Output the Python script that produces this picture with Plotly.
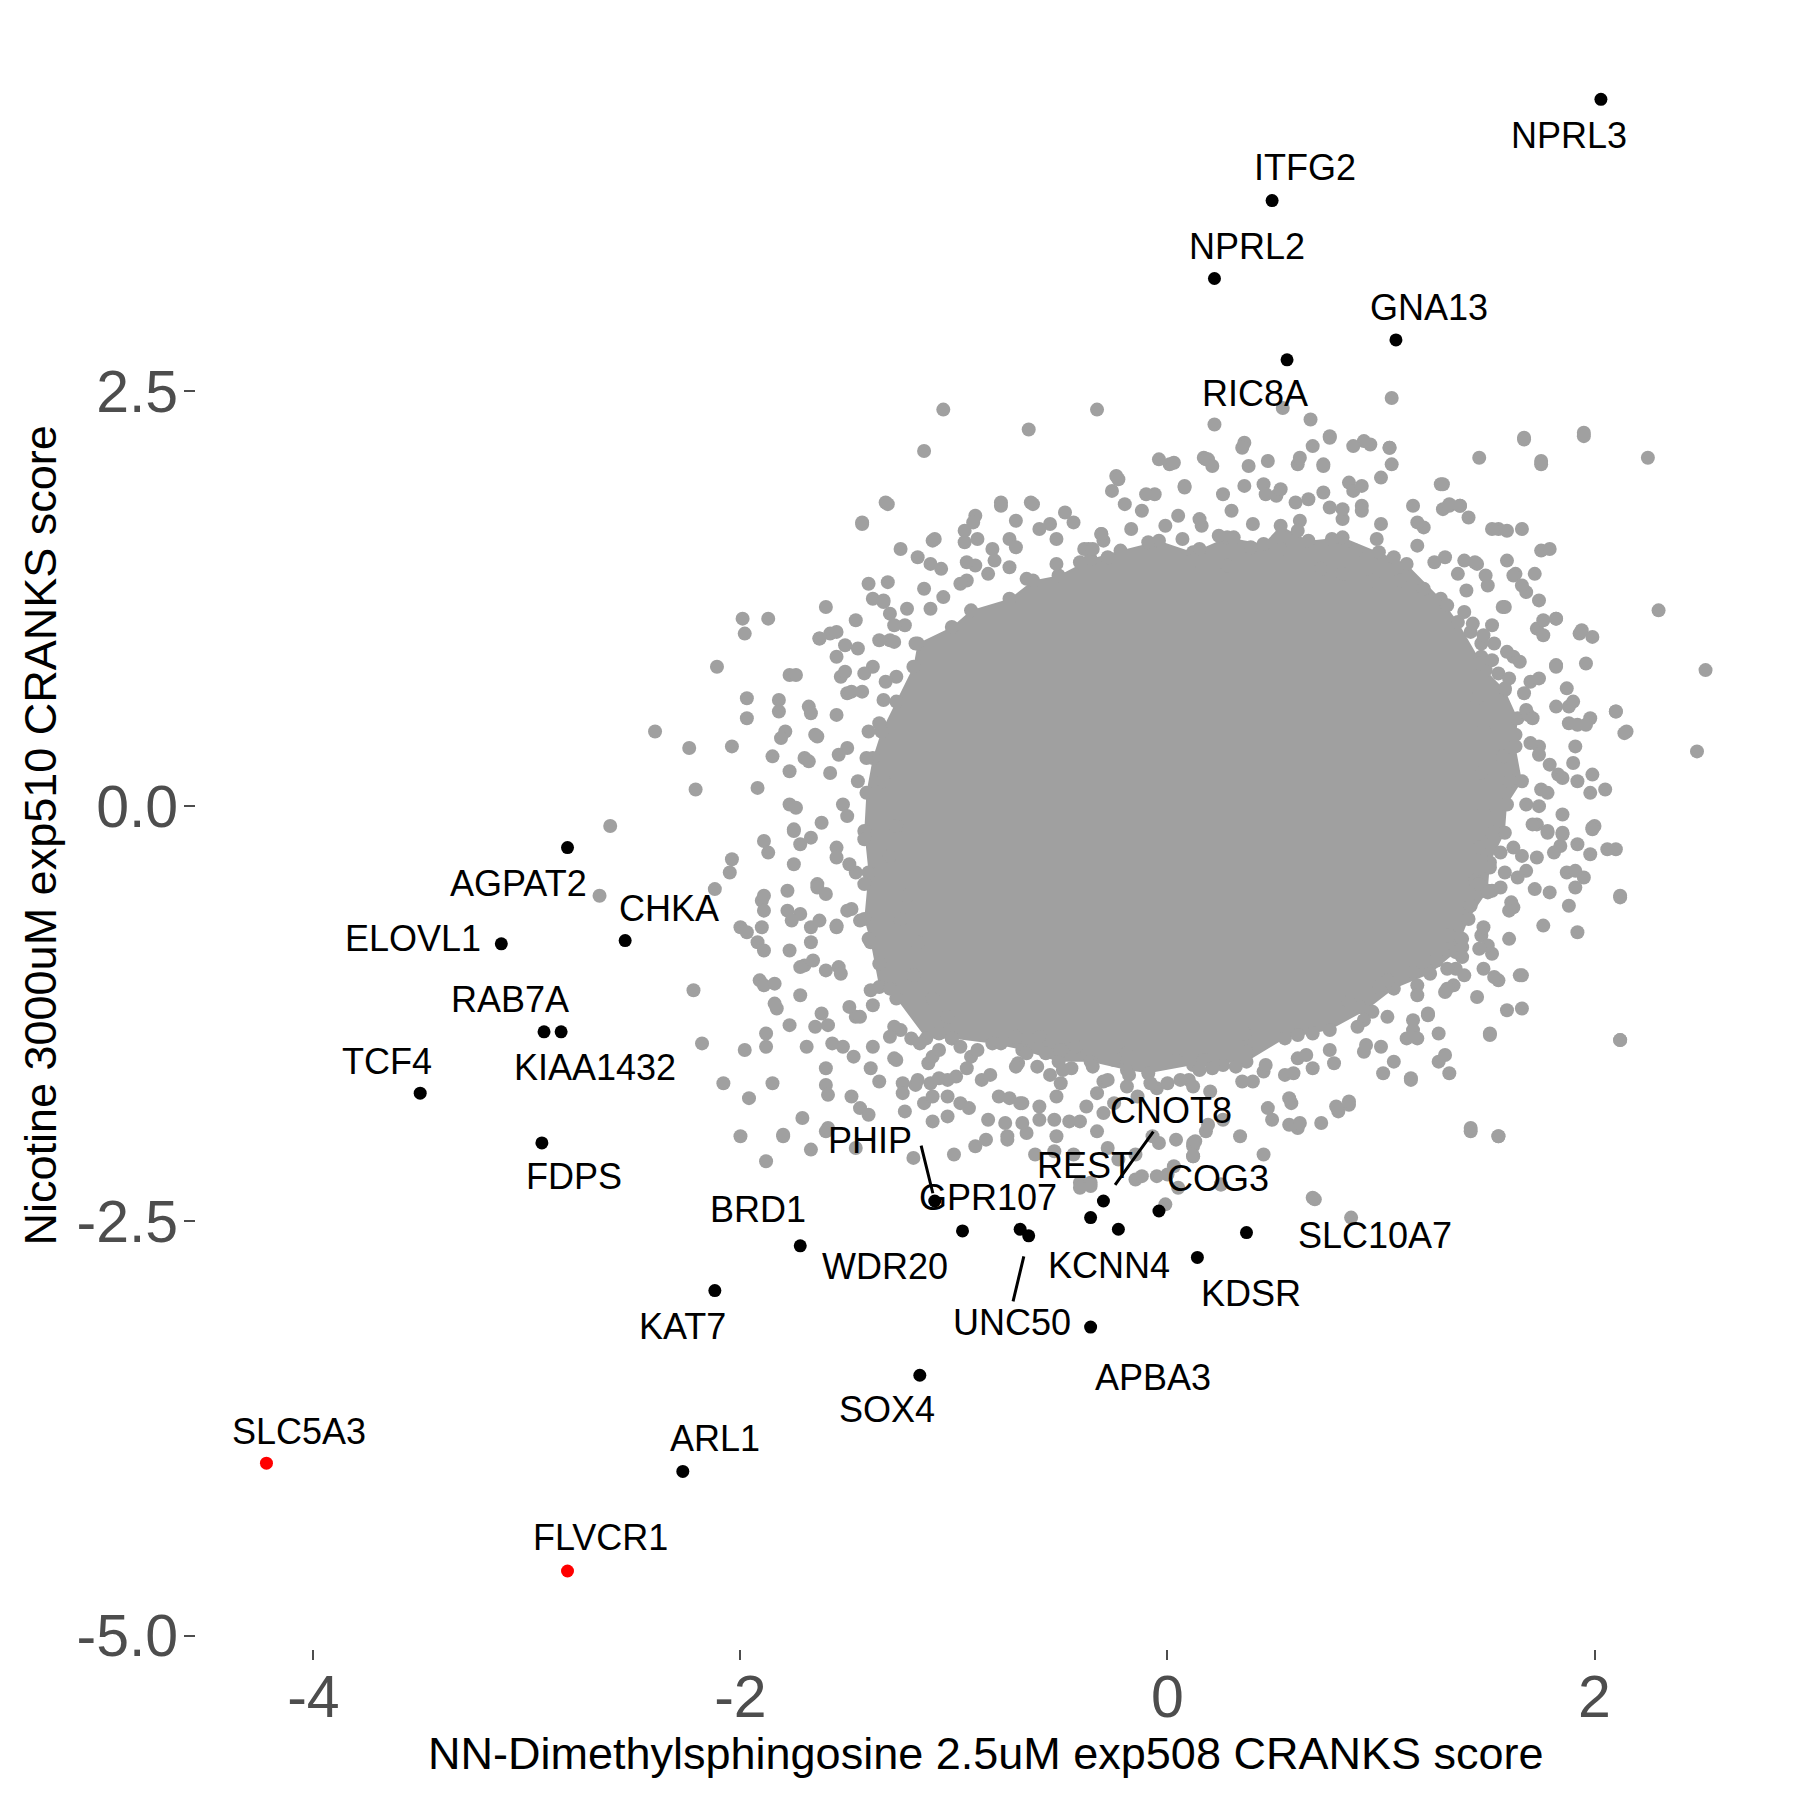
import plotly.graph_objects as go

# labelled genes (black)
hit_genes = ["NPRL3", "ITFG2", "NPRL2", "GNA13", "RIC8A", "AGPAT2", "ELOVL1", "CHKA",
             "RAB7A", "KIAA1432", "TCF4", "FDPS", "PHIP", "GPR107", "WDR20", "BRD1",
             "KAT7", "UNC50", "CNOT8", "REST", "KCNN4", "COG3", "KDSR", "SLC10A7",
             "APBA3", "SOX4", "ARL1"]
hit_x = [2.03, 0.49, 0.22, 1.07, 0.56, -2.81, -3.12, -2.54,
         -2.92, -2.84, -3.50, -2.93, -1.09, -0.69, -0.96, -1.72,
         -2.12, -0.65, -0.30, -0.36, -0.23, -0.04, 0.14, 0.37,
         -0.36, -1.16, -2.27]
hit_y = [4.26, 3.65, 3.18, 2.81, 2.69, -0.25, -0.83, -0.81,
         -1.36, -1.36, -1.73, -2.03, -2.38, -2.55, -2.56, -2.65,
         -2.92, -2.59, -2.38, -2.48, -2.55, -2.44, -2.72, -2.57,
         -3.14, -3.43, -4.01]

# highlighted genes (red)
red_genes = ["SLC5A3", "FLVCR1"]
red_x = [-4.22, -2.81]
red_y = [-3.96, -4.61]

# outline of the (practically solid) dense core of background genes
core_x = [-0.22, -0.04, 0.12, 0.28, 0.45, 0.53, 0.66, 0.82, 0.99, 1.12, 1.28, 1.36, 1.49, 1.58,
          1.64, 1.63, 1.66, 1.59, 1.58, 1.51, 1.50, 1.41, 1.35, 1.23, 1.06, 0.93, 0.76, 0.55,
          0.37, 0.12, -0.09, -0.19, -0.36, -0.51, -0.68, -0.82, -1.01, -1.13, -1.27, -1.35,
          -1.39, -1.42, -1.40, -1.42, -1.41, -1.38, -1.34, -1.27, -1.19, -1.17, -1.01, -0.92,
          -0.74, -0.63, -0.51, -0.36]
core_y = [1.54, 1.60, 1.53, 1.62, 1.58, 1.69, 1.60, 1.62, 1.53, 1.46, 1.25, 1.11, 0.82, 0.70,
          0.53, 0.36, 0.15, 0.01, -0.16, -0.34, -0.51, -0.68, -0.88, -1.01, -1.10, -1.23, -1.35, -1.40,
          -1.54, -1.56, -1.61, -1.59, -1.54, -1.54, -1.47, -1.43, -1.40, -1.40, -1.16, -1.09,
          -0.82, -0.68, -0.40, -0.15, 0.08, 0.29, 0.45, 0.63, 0.84, 0.98, 1.08, 1.18,
          1.25, 1.36, 1.39, 1.49]

# background genes outside the core, whole cloud
gray_x = [-1.05, -0.33, -0.65, 0.22, 0.36, 0.54, 0.67, 0.76, 0.92, 1.04, 1.05, 1.67, 1.95, 2.25, 1.75,
          0.19, 0.01, -0.24, 0.61, 0.73, 0.45, 0.51, 0.85, 0.91, 1.29, 0.76, 0.82, 1.15, 1.32, 1.37,
          1.55, 1.66, -1.32, -1.43, -0.78, -0.64, -0.48, -0.12, -0.06, 0.16, 0.24,
          -0.90, -0.55, -0.20, 0.05, 0.30, 0.40, 0.62, 1.00, 1.20, -1.10, -1.25, -0.30,
          -1.17, -1.09, -0.95, -0.89, -0.60, -0.52, -0.44, -0.37, -0.31, -0.17, -0.09, -0.01, 0.07,
          0.15, 0.31, 0.39, 0.53, 0.61, 0.77, 0.88, 0.98, 1.06, 1.17, 1.25, 1.36, 1.44,
          -0.84, -0.74, -0.66, -0.52, -0.41, 0.12, 0.28, 0.72, 0.82, 0.96, 1.09, 1.20, 1.31, 1.39,
          -1.38, -1.33, -1.30, -1.46, -1.23, -1.18, -1.11, -1.05, -0.94, -0.90, -0.82, -0.74,
          -1.38, -1.27, -1.33, -1.35, -1.41, -1.33, -1.27, -1.30, -1.22, -1.25, -1.17, -1.19,
          -1.10, -1.03, -1.01, -0.92,
          -2.40, -2.61, -2.66, -2.24, -2.21, -2.22, -2.18, -2.11, -1.99, -1.98, -1.97, -1.97,
          -2.04, -1.92, -2.08, -1.96, -2.00, -1.85, -1.80, -2.04, -2.05, -2.12, -2.00, -1.97,
          -1.90, -1.92, -1.82, -1.77, -1.89, -1.77, -1.63, -1.58, -1.53, -1.48, -1.70, -1.65,
          -1.79, -1.62, -1.77, -1.83, -1.91, -1.98, -1.60, -1.60, -1.44, -1.60, -1.71, -1.67,
          -1.70, -1.46, -1.38, -1.54, -1.39, -1.35, -1.23, -1.18, -1.11, -1.46, -1.52, -1.50,
          -1.46, -1.42, -1.64,
          -1.55, -1.50, -1.58, -1.45, -1.62, -1.55, -1.48, -1.55, -1.40, -1.35, -1.30, -1.25,
          -1.40, -1.45, -1.55, -1.30, -1.42, -1.38, -1.28, -1.20, -1.12, -1.72, -1.75, -1.68,
          -1.85, -1.60, -1.88, -1.52,
          -0.87, -0.79, -1.03, -0.97, -0.84, -0.75, -0.68, -0.60, -0.52, -0.44, -0.33, -0.28,
          -0.23, -0.15, -0.04, 0.03, 0.12, 0.18, 0.26, 0.34, 0.49, 0.58, 0.61, 0.72, 0.80, 0.85,
          1.01, 1.06, 1.14, 1.27, 1.32, 1.51, 1.66, 2.12, 1.42, 1.55, 0.69, 0.86, -0.41, -0.36,
          -0.62, 0.05, 0.00, 0.25, -0.90, -1.00, -0.15, 0.45, -0.12, -0.01,
          -0.70, -0.55, -0.45, -0.30, -0.18, -0.05, 0.10, 0.20, 0.35, 0.45, 0.55, 0.68, 0.78,
          0.92, 1.00, 1.15, 1.22, 1.30,
          1.42, 1.47, 1.45, 1.48, 1.47, 1.48, 1.46, 1.44, 1.42, 1.38, 1.35,
          2.52, 2.30, 2.48, 2.15, 2.10, 1.96, 1.93, 1.82, 1.73, 1.82, 2.00, 2.10, 2.12, 1.95,
          1.84, 1.83, 1.90, 1.92, 1.98, 1.66, 1.76, 1.75, 1.79, 1.63, 1.68, 1.58, 1.68, 1.63,
          1.74, 1.60, 1.68, 1.52, 1.66, 1.52, 1.62, 1.47, 1.52, 1.39, 1.47, 1.52,
          1.58, 1.62, 1.55, 1.70, 1.57, 1.75, 1.58, 1.72, 1.60, 1.45, 1.55, 1.85, 1.88, 1.40,
          1.50, 2.05]
gray_y = [2.39, 2.39, 2.27, 2.30, 2.19, 2.40, 2.33, 2.23, 2.20, 2.16, 2.46, 2.22, 2.25, 2.10, 2.08,
          2.09, 2.06, 1.99, 2.06, 2.06, 1.94, 1.87, 1.95, 1.81, 1.94, 1.80, 1.73, 1.81, 1.81, 1.81,
          1.67, 1.67, 1.83, 1.71, 1.83, 1.83, 1.77, 1.78, 1.88, 1.69, 1.63,
          1.75, 1.70, 1.82, 1.75, 1.78, 1.70, 1.72, 1.70, 1.68, 1.60, 1.55, 1.60,
          1.50, 1.61, 1.66, 1.61, 1.67, 1.61, 1.71, 1.55, 1.64, 1.67, 1.59, 1.69, 1.61,
          1.55, 1.62, 1.56, 1.55, 1.66, 1.61, 1.54, 1.61, 1.50, 1.57, 1.47, 1.40, 1.47,
          1.40, 1.44, 1.37, 1.46, 1.47, 1.48, 1.45, 1.43, 1.40, 1.36, 1.36, 1.31, 1.21, 1.17,
          1.25, 1.24, 1.16, 1.12, 1.09, 0.98, 1.19, 1.26, 1.36, 1.45, 1.55, 1.61,
          0.84, 0.78, 0.64, 0.50, 0.29, 0.15, -0.12, -0.30, -0.54, -0.68, -0.82, -1.02,
          -1.16, -1.27, -1.40, -1.51,
          0.45, -0.12, -0.54, 0.35, 0.10, -1.11, -1.43, 0.84, 1.13, 1.04, 0.65, 0.53,
          0.36, 0.11, -1.67, -1.76, -1.99, -1.67, -1.99, -0.32, -0.40, -0.50, -0.73, -0.76,
          -0.57, -0.82, 0.64, 0.79, -0.21, 0.01, 1.01, 1.04, 0.78, 0.69, 0.29, 0.43,
          0.45, -1.25, -1.32, -1.22, -1.05, -1.47, -1.58, -1.68, -1.82, -1.96, -1.88, -0.82,
          -0.96, -1.27, -1.20, -0.97, -1.58, -1.66, -1.84, -1.68, -1.67, -2.06, 0.01, -0.06,
          -0.40, -0.47, -0.47,
          0.55, 0.35, 0.20, 0.15, -0.10, -0.25, -0.62, -0.72, -0.80, -0.95, -1.10, -1.35,
          0.45, 0.95, 0.90, 1.00, -0.20, -1.45, -1.52, -1.40, -1.55, -0.65, -0.35, 0.60,
          0.30, 1.20, -1.45, -1.45,
          -1.65, -1.75, -1.65, -1.79, -1.89, -1.99, -1.79, -1.89, -1.99, -2.10, -1.96, -2.06,
          -2.13, -2.10, -2.03, -2.17, -2.05, -1.96, -1.89, -1.99, -1.89, -1.79, -1.94, -1.91,
          -1.84, -1.80, -1.61, -1.54, -1.65, -1.54, -1.61, -1.37, -1.22, -1.41, -1.96, -1.99,
          -2.37, -2.48, -2.27, -2.27, -2.10, -2.30, -2.22, -2.28, -2.05, -2.10, -2.25, -2.10,
          -2.23, -2.40,
          -1.55, -1.62, -1.58, -1.66, -1.62, -1.70, -1.65, -1.72, -1.66, -1.60, -1.62, -1.58,
          -1.55, -1.48, -1.45, -1.35, -1.25, -1.12,
          1.05, 0.90, 0.65, 0.45, 0.20, -0.05, -0.25, -0.45, -0.60, -0.85, -0.98,
          0.82, 1.18, 0.33, 0.45, 0.57, 0.86, 1.04, 1.13, 1.07, 0.85, -0.12, -0.26, -0.54, -0.43,
          -0.24, 0.19, 0.26, 0.49, 0.53, -1.02, -0.72, 1.54, 1.55, 1.40, 1.29, 0.71, 0.58, 0.43,
          0.36, 0.15, 0.01, -0.16, -0.30, -0.51, -0.61, -0.78, -0.89, -1.02, 0.98, 1.09,
          1.20, 0.90, 0.80, 0.75, 0.30, 0.10, -0.40, -0.50, -0.80, -1.15, -1.05, -0.05, 0.60, 1.30,
          1.33, 0.10]

# background genes around the core edge, upper-left
edge_ul_x = [-1.14, -1.31, -1.43, -1.87, -1.74, -1.82, -1.67, -1.64, -1.81, -1.77, -1.68, -1.74, -1.75,
             -1.54, -1.51, -1.42, -1.50, -1.43, -1.32, -1.40, -1.31, -1.11, -1.06, -0.97, -0.94, -0.95,
             -0.91, -0.81, -0.78, -0.63, -0.71, -0.71, -0.26, -0.23, -0.10, -0.04, 0.03, 0.08, 0.15,
             0.17, -0.31, -0.39, -0.35, -0.28, -1.63, -1.55, -1.51, -1.28, -1.35, -1.28, -1.22, -1.14,
             -1.33]
edge_ul_y = [2.14, 1.82, 1.70, 1.13, 0.79, 0.57, 0.56, 0.42, 0.41, 0.21, 0.27, -0.01, -0.14,
             0.31, 0.81, 0.80, 0.68, 0.69, 0.75, 1.34, 1.35, 1.46, 1.43, 1.34, 1.47, 1.59,
             1.71, 1.48, 1.81, 1.82, 1.56, 1.72, 1.90, 1.97, 1.88, 2.09, 2.07, 1.93, 1.73,
             2.10, 1.64, 1.55, 1.55, 1.50, 1.01, 1.05, 0.97, 1.09, 1.00, 0.99, 1.19, 1.31,
             1.23]

# lower-left
edge_ll_x = [-1.87, -1.89, -1.89, -1.90, -1.78, -1.78, -1.76, -1.89, -1.77, -1.89, -1.84, -1.84, -1.72, -1.88,
             -1.69, -1.65, -1.59, -1.57, -1.47, -1.59,
             -1.48, -1.40, -1.80, -1.67, -1.88, -1.59, -1.19, -1.72, -1.66, -1.60, -1.53, -1.67, -1.63, -1.55,
             -1.64, -1.60, -1.72, -1.67, -1.75, -1.55,
             -1.49, -1.50, -1.44, -1.49, -1.44, -1.39, -1.28, -1.30, -1.27, -1.16, -1.24, -1.17, -1.24, -1.14,
             -1.10, -1.03, -1.03, -1.10, -1.07, -1.10,
             -1.07, -0.93, -0.99, -0.94, -0.83, -0.85, -0.76, -0.75, -0.66, -0.68, -0.74, -0.69, -0.60, -0.53,
             -0.46, -0.41, -0.52, -0.50, -0.49, -0.61,
             -0.57, -0.71, -0.66, -0.78, -0.71, -0.38, -0.33, -0.30, -0.25, -0.28, -0.19, -0.14, -0.08, 0.00,
             0.06, 0.12, -0.07, 0.04, 0.12, 0.12,
             -0.05, -0.41, -0.36, -0.53, 0.04, 0.17, -0.35, -0.25, -0.19, -0.60, -0.50, -0.43, -0.89, -1.07,
             -0.97]
edge_ll_y = [-0.28, -0.54, -0.63, -0.73, -0.51, -0.63, -0.69, -0.87, -0.87, -1.08, -1.07, -1.19, -1.14, -1.37,
             -1.45, -1.33, -1.32, -1.43, -1.51, -1.74,
             -1.75, -1.86, -1.98, -2.07, -2.14, -1.94, -2.12, -0.97, -0.93, -0.99, -1.01, -0.73, -0.69, -0.73,
             -0.49, -0.53, -0.23, -0.19, -0.15, -0.31,
             -0.35, -0.63, -0.69, -1.21, -1.27, -1.11, -1.33, -1.39, -1.53, -1.43, -1.67, -1.65, -1.73, -1.79,
             -1.75, -1.75, -1.87, -1.90, -1.64, -1.51,
             -1.47, -1.82, -1.63, -1.58, -1.62, -2.01, -1.91, -2.01, -1.97, -1.91, -1.76, -1.79, -1.81, -1.89,
             -1.90, -1.90, -1.75, -1.67, -1.59, -1.57,
             -1.49, -1.57, -1.49, -1.43, -1.39, -1.81, -1.73, -1.85, -1.79, -1.65, -1.69, -1.75, -1.67, -1.67,
             -1.65, -1.69, -1.99, -2.01, -2.03, -2.11,
             -2.23, -2.30, -2.29, -2.08, -1.53, -1.53, -1.57, -1.53, -1.49, -1.39, -1.47, -1.45, -1.47, -1.37,
             -1.45]

# upper-right
edge_ur_x = [1.67, 1.95, 1.46, 1.75, 1.28, 1.00, 1.04, 1.05, 0.87, 0.95, 0.76, 0.68, 0.73, 0.62, 0.35, 0.47,
             0.18, 0.21, 0.38, 0.08,
             0.26, 0.36, 0.46, 0.53, 0.60, 0.66, 0.73, 0.82, 0.87, 0.91, 0.91, 1.29, 1.32, 1.37, 1.41, 1.17,
             1.52, 1.59, 1.30, 1.39,
             1.45, 1.49, 1.59, 1.62, 1.66, 1.72, 1.57, 1.74, 1.76, 1.82, 1.76, 1.94, 1.99, 1.43, 1.48, 1.53,
             1.59, 1.65, 1.52, 1.46,
             1.74, 1.82, 1.87, 1.90, 1.82, 1.88, 1.96, 1.91, 2.10, 2.14, 1.60, 1.67, 1.69, 1.71, 1.70, 1.74,
             1.79, 1.85, 1.92, 1.99,
             1.98, 1.78, 1.74, 1.73, 1.78, 1.85, 1.99]
edge_ur_y = [2.21, 2.23, 2.10, 2.06, 1.94, 1.98, 2.16, 2.06, 2.17, 2.18, 2.22, 2.17, 2.05, 2.10, 2.16, 2.08,
             2.09, 2.05, 2.05, 1.92,
             1.88, 1.93, 1.88, 1.91, 1.83, 1.85, 1.89, 1.79, 1.90, 1.93, 1.78, 1.79, 1.82, 1.81, 1.74, 1.71,
             1.67, 1.66, 1.50, 1.48,
             1.46, 1.39, 1.48, 1.39, 1.33, 1.40, 1.20, 1.24, 1.12, 1.13, 1.03, 1.06, 1.02, 1.10, 1.03, 0.98,
             0.93, 0.87, 0.88, 0.86,
             0.77, 0.84, 0.71, 0.63, 0.60, 0.50, 0.49, 0.36, 0.57, 0.44, 0.77, 0.68, 0.55, 0.53, 0.38, 0.31,
             0.25, 0.17, 0.15, 0.19,
             0.08, 0.08, 0.00, -0.11, -0.15, -0.16, -0.13]

# lower-right
edge_lr_x = [2.12, 2.12, 2.06, 1.99, 1.98, 1.92, 1.85, 1.78, 1.71, 1.87, 1.91, 1.91, 1.79, 1.88, 1.92, 1.81,
             1.73, 1.68, 1.64, 1.62,
             1.56, 1.51, 1.46, 1.50, 1.56, 1.61, 1.60, 1.48, 1.50, 1.46, 1.38, 1.48, 1.53, 1.65, 1.59, 1.51,
             1.34, 1.31, 1.26, 1.31,
             1.38, 1.32, 1.22, 1.15, 1.17, 1.17, 1.27, 1.30, 1.14, 1.17, 1.12, 1.03, 0.96, 0.92, 0.89, 0.93,
             1.42, 1.55, 0.79, 0.85,
             0.57, 0.62, 0.57, 0.47, 0.59, 0.40, 0.46, 0.61, 0.65, 0.76, 0.68, 0.61, 0.37, 0.36, 0.32, 0.26,
             0.21, 0.15, 0.13, 0.12,
             0.19, 0.68, 0.25, 0.85, 0.90, 1.03, 0.99, 1.15, 1.26]
edge_lr_y = [-0.55, -1.41, -0.26, -0.14, -0.29, -0.23, -0.17, -0.16, -0.11, -0.40, -0.39, -0.49, -0.52, -0.60,
             -0.76, -0.28, -0.31, -0.39, -0.43, -0.25,
             -0.28, -0.37, -0.47, -0.52, -0.49, -0.58, -0.63, -0.73, -0.84, -0.86, -0.91, -0.98, -1.03, -1.02,
             -1.23, -1.38, -1.08, -1.10, -0.93, -0.98,
             -0.80, -0.78, -1.26, -1.29, -1.08, -1.14, -1.37, -1.50, -1.64, -1.40, -1.40, -1.27, -1.24, -1.29,
             -1.33, -1.44, -1.94, -1.99, -1.81, -1.78,
             -1.92, -1.91, -1.76, -1.82, -1.61, -1.66, -1.56, -1.52, -1.50, -1.47, -1.37, -1.38, -1.48, -1.37,
             -1.57, -1.56, -1.58, -1.59, -2.02, -2.11,
             -1.92, -2.36, -2.28, -1.18, -1.21, -1.05, -1.09, -1.00, -0.93]

# label offsets in pixels (dx right, dy up)
label_shift = {
    "NPRL3": (-32, -36), "ITFG2": (33, 33), "NPRL2": (33, 32), "GNA13": (33, 32),
    "RIC8A": (-32, -34), "AGPAT2": (-49, -36), "ELOVL1": (-88, 5), "CHKA": (44, 32),
    "RAB7A": (-34, 32), "KIAA1432": (34, -36), "TCF4": (-33, 32), "FDPS": (32, -34),
    "PHIP": (-65, 61), "GPR107": (-32, 32), "WDR20": (-78, -36), "BRD1": (-42, 36),
    "KAT7": (-32, -36), "UNC50": (-17, -87), "CNOT8": (68, 91),
    "REST": (-6, 52), "KCNN4": (-9, -36), "COG3": (59, 32), "KDSR": (54, -36),
    "SLC10A7": (129, -3), "APBA3": (62, -50), "SOX4": (-33, -34), "ARL1": (32, 33),
    "SLC5A3": (33, 32), "FLVCR1": (33, 34),
}
# leader segments: tail offset (dx right, dy up) and gap left before the point
leader = {"PHIP": (-14, 57, 8), "UNC50": (-16, -67, 21), "CNOT8": (51, 71, 20)}

FONT = "Liberation Sans, Arial, sans-serif"
GREY = "#a0a0a0"

bg_x = gray_x + edge_ul_x + edge_ll_x + edge_ur_x + edge_lr_x
bg_y = gray_y + edge_ul_y + edge_ll_y + edge_ur_y + edge_lr_y

fig = go.Figure()

fig.add_trace(go.Scatter(x=core_x, y=core_y, mode="lines+markers", fill="toself",
                         fillcolor=GREY, line=dict(width=0), marker=dict(size=14, color=GREY),
                         hoverinfo="skip"))
fig.add_trace(go.Scatter(x=bg_x, y=bg_y, mode="markers",
                         marker=dict(size=14, color=GREY)))
fig.add_trace(go.Scatter(x=hit_x, y=hit_y, mode="markers", text=hit_genes,
                         marker=dict(size=13, color="black")))
fig.add_trace(go.Scatter(x=red_x, y=red_y, mode="markers", text=red_genes,
                         marker=dict(size=13, color="red")))

for gx, gy, name in zip(hit_x + red_x, hit_y + red_y, hit_genes + red_genes):
    dx, dy = label_shift[name]
    fig.add_annotation(x=gx, y=gy, text=name, showarrow=False, xshift=dx, yshift=dy,
                       font=dict(family=FONT, size=36, color="black"))
    if name in leader:
        tx, ty, gap = leader[name]
        fig.add_annotation(x=gx, y=gy, text="", showarrow=True, ax=tx, ay=-ty,
                           arrowhead=0, arrowwidth=3, arrowcolor="black", standoff=gap)

# axis titles placed as paper annotations
fig.add_annotation(text="NN-Dimethylsphingosine 2.5uM exp508 CRANKS score",
                   xref="paper", yref="paper", x=0.5, y=-0.064, showarrow=False,
                   xanchor="center", yanchor="middle",
                   font=dict(family=FONT, size=45, color="black"))
fig.add_annotation(text="Nicotine 3000uM exp510 CRANKS score",
                   xref="paper", yref="paper", x=-0.099, y=0.5, showarrow=False,
                   textangle=-90, xanchor="center", yanchor="middle",
                   font=dict(family=FONT, size=45, color="black"))

fig.update_layout(
    width=1800, height=1800,
    margin=dict(l=188, r=32, t=15, b=159),
    plot_bgcolor="white", paper_bgcolor="white",
    showlegend=False,
    font=dict(family=FONT),
)
fig.update_xaxes(
    range=[-4.55, 2.85], tickvals=[-4, -2, 0, 2], ticktext=["-4", "-2", "0", "2"],
    showgrid=False, zeroline=False, showline=False, automargin=False,
    ticks="outside", ticklen=10, tickwidth=2, tickcolor="#4d4d4d", ticklabelstandoff=-14,
    tickfont=dict(size=59, color="#4d4d4d", family=FONT),
)
fig.update_yaxes(
    range=[-5.08, 4.72], tickvals=[-5, -2.5, 0, 2.5], ticktext=["-5.0", "-2.5", "0.0", "2.5"],
    showgrid=False, zeroline=False, showline=False, automargin=False,
    ticks="outside", ticklen=11, tickwidth=2, tickcolor="#4d4d4d", ticklabelstandoff=-6,
    tickfont=dict(size=59, color="#4d4d4d", family=FONT),
)

fig.write_html("out.html")
